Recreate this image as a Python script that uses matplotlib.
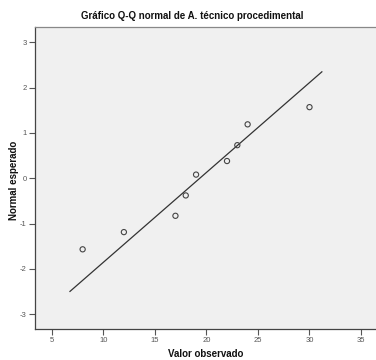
import matplotlib
matplotlib.use("Agg")
import matplotlib.pyplot as plt

# Data
observed = [8, 12, 17, 18, 19, 22, 23, 24, 30]
expected_normal = [-1.57, -1.19, -0.83, -0.38, 0.08, 0.38, 0.73, 1.19, 1.57]
line_x = [6.77, 31.2]
line_y = [-2.50, 2.35]
xticks = [5, 10, 15, 20, 25, 30, 35]
yticks = [-3, -2, -1, 0, 1, 2, 3]

plt.rcParams['font.family'] = ['Liberation Sans Narrow', 'Liberation Sans', 'DejaVu Sans']
plt.rcParams['axes.unicode_minus'] = False

fig = plt.figure(figsize=(3.76, 3.6), dpi=100)
ax = fig.add_axes([35/376, 31/360, 1 - 35/376, (329-27)/360])
ax.set_facecolor('#f0f0f0')

ax.plot(line_x, line_y, color='#333333', lw=0.9)
ax.scatter(observed, expected_normal, s=14, facecolors='none',
           edgecolors='#444444', linewidths=0.8, zorder=3)

ax.set_xlim(3.38, 36.45)
ax.set_ylim(-3.33, 3.34)
ax.set_xticks(xticks)
ax.set_yticks(yticks)
ax.tick_params(axis='both', direction='out', length=4, width=0.8,
               labelsize=5.5, labelcolor='#555555', color='#555555', pad=2)

for s in ['left', 'bottom']:
    ax.spines[s].set_color('#444444')
    ax.spines[s].set_linewidth(0.9)
ax.spines['top'].set_color('#888888')
ax.spines['top'].set_linewidth(0.9)
ax.spines['right'].set_visible(False)

fig.text(192/376, 1 - 16/360, 'Gráfico Q-Q normal de A. técnico procedimental',
         ha='center', va='center', fontsize=7, fontweight='bold', color='#111111')
fig.text(14/376, 1 - 180/360, 'Normal esperado', rotation=90,
         ha='center', va='center', fontsize=7, fontweight='bold', color='#111111')
fig.text(206/376, 1 - 354/360, 'Valor observado',
         ha='center', va='center', fontsize=7, fontweight='bold', color='#111111')

fig.savefig('out.png', dpi=100)
